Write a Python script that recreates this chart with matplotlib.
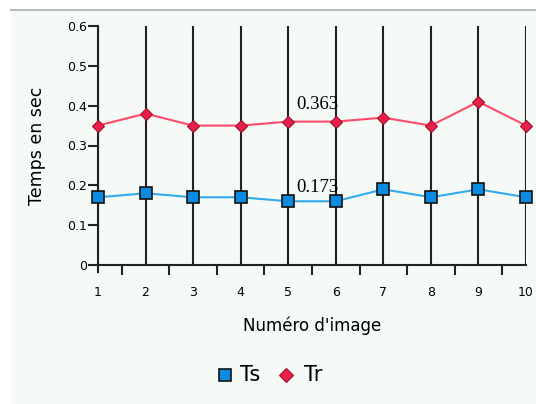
import matplotlib
matplotlib.use("Agg")
import matplotlib.pyplot as plt
from matplotlib.patches import Rectangle
from matplotlib.lines import Line2D
import numpy as np

images = [1, 2, 3, 4, 5, 6, 7, 8, 9, 10]
ts = [0.17, 0.18, 0.17, 0.17, 0.16, 0.16, 0.19, 0.17, 0.19, 0.17]
tr = [0.35, 0.38, 0.35, 0.35, 0.36, 0.36, 0.37, 0.35, 0.41, 0.35]
y_ticks = [0, 0.1, 0.2, 0.3, 0.4, 0.5, 0.6]
y_ticklabels = ["0", "0.1", "0.2", "0.3", "0.4", "0.5", "0.6"]

W, H = 536, 404
fig = plt.figure(figsize=(W / 100, H / 100), dpi=100)
fig.patch.set_facecolor("white")
bg = "#f5faf7"
fig.patches.append(Rectangle((11 / W, 0), 1 - 11 / W, 1 - 10 / H, transform=fig.transFigure,
                             facecolor=bg, edgecolor="none", zorder=-10))
fig.lines.append(Line2D([11 / W, 1], [1 - 9.5 / H, 1 - 9.5 / H], transform=fig.transFigure,
                        color="#bbbbbb", lw=1.5, zorder=-9))

ax_h = 265 - 26
ax = fig.add_axes([98 / W, 1 - 265 / H, (526 - 98) / W, ax_h / H])
ax.set_zorder(1)
ax.set_facecolor("none")
ax.set_xlim(1, 10)
ax.set_ylim(0, 0.6)

for x in images:
    ax.axvline(x, color="#222222", lw=1.5, zorder=1)
# tick below the axis at the first image
ax.axvline(images[0], ymin=-7 / ax_h, ymax=0, color="#222222", lw=1.5, clip_on=False)

sq_face, sq_edge = "#0a8ae0", "#111111"
di_face, di_edge = "#e8204a", "#a01030"
ax.plot(images, ts, color="#33aaee", lw=1.5, marker="s", markersize=8,
        markerfacecolor=sq_face, markeredgecolor=sq_edge, markeredgewidth=1.2,
        zorder=3, clip_on=False, label="Ts")
ax.plot(images, tr, color="#ff4a6a", lw=1.5, marker="D", markersize=6.5,
        markerfacecolor=di_face, markeredgecolor=di_edge, markeredgewidth=0.8,
        zorder=3, clip_on=False, label="Tr")

ax.annotate(f"{np.mean(tr):.3f}", (5, np.mean(tr)), xytext=(5.5, 11.5),
            textcoords="offset points", family="Liberation Serif", fontsize=13.5,
            va="center", ha="left", zorder=4)
ax.annotate(f"{np.mean(ts):.3f}", (5, np.mean(ts)), xytext=(5.5, 6),
            textcoords="offset points", family="Liberation Serif", fontsize=13.5,
            va="center", ha="left", zorder=4)

for s in ["top", "right"]:
    ax.spines[s].set_visible(False)
for s in ["left", "bottom"]:
    ax.spines[s].set_color("#222222")
    ax.spines[s].set_linewidth(1.5)

ax.set_yticks(y_ticks)
ax.set_yticklabels(y_ticklabels)
ax.tick_params(axis="y", direction="out", length=7, width=1.5, color="#222222",
               labelsize=9, pad=1)
ax.set_xticks(images)
ax.set_xticklabels([str(i) for i in images])
ax.set_xticks(np.arange(1.5, 10, 1), minor=True)
ax.tick_params(axis="x", which="major", length=0, labelsize=9, pad=15)
ax.tick_params(axis="x", which="minor", direction="out", length=7, width=1.5, color="#222222")

ax.set_ylabel("Temps en sec", fontsize=12.5, labelpad=15)
ax.set_xlabel("Numéro d'image", fontsize=12, labelpad=13)

# legend
ly = 1 - 375 / H
fig.lines.append(Line2D([224.5 / W], [ly], transform=fig.transFigure, ls="none", marker="s",
                        markersize=9, markerfacecolor=sq_face, markeredgecolor=sq_edge,
                        markeredgewidth=1.2))
fig.lines.append(Line2D([286 / W], [ly], transform=fig.transFigure, ls="none", marker="D",
                        markersize=7, markerfacecolor=di_face, markeredgecolor=di_edge,
                        markeredgewidth=0.8))
fig.text(240 / W, ly, "Ts", fontsize=15, va="center", ha="left")
fig.text(304 / W, ly, "Tr", fontsize=15, va="center", ha="left")

fig.savefig("out.png", dpi=100, facecolor=fig.get_facecolor())
